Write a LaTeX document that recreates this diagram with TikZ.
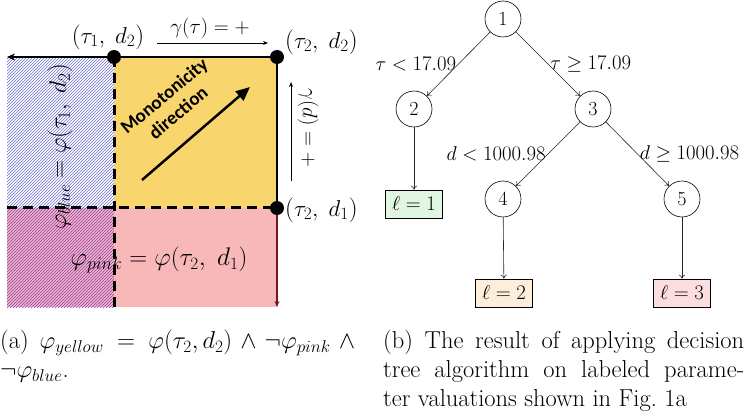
\documentclass[tikz,border=0pt]{standalone}
\usepackage{fontspec}
\DeclareFontShape{OML}{cmm}{m}{it}{<-6>cmmi5<6-7>cmmi6<7-8>cmmi7<8-9>cmmi8<9-10>cmmi9<10-12>cmmi10<12->cmmi12}{\skewchar\font'177}
\DeclareFontShape{OMS}{cmsy}{m}{n}{<-6>cmsy5<6-7>cmsy6<7-8>cmsy7<8-9>cmsy8<9-10>cmsy9<10->cmsy10}{\skewchar\font'60}
\newfontfamily\carlito{Carlito}
\usetikzlibrary{patterns,arrows.meta}
\definecolor{myyellow}{RGB}{249,213,110}
\definecolor{mypink}{RGB}{248,184,186}
\definecolor{hatchblue}{RGB}{110,110,210}
\definecolor{hatchpurple}{RGB}{135,60,195}
\definecolor{leafgreen}{RGB}{224,246,224}
\definecolor{leaforange}{RGB}{253,238,220}
\definecolor{leafred}{RGB}{252,222,222}
\definecolor{darkred}{RGB}{120,20,20}
\begin{document}
\begin{tikzpicture}[x=1pt,y=-1pt,
  dot/.style={circle,fill=black,inner sep=0pt,minimum size=14pt},
  lbl/.style={inner sep=0pt,font=\fontsize{23}{27}\selectfont},
  glbl/.style={inner sep=0pt,font=\fontsize{21}{25}\selectfont},
  tnode/.style={circle,draw,minimum size=36pt,inner sep=0pt,font=\fontsize{20}{24}\selectfont,line width=0.6pt},
  leaf/.style={draw,minimum width=57pt,minimum height=28pt,inner sep=0pt,font=\fontsize{20}{24}\selectfont,line width=0.6pt},
  tedge/.style={-{To[length=4pt,width=6pt]},line width=0.6pt,black!85},
  elbl/.style={font=\fontsize{20}{24}\selectfont,inner sep=2pt,text=black},
  dashline/.style={line width=3pt,dash pattern=on 10pt off 6pt},
  capstyle/.style={anchor=north west,inner sep=0pt,align=justify,font=\fontsize{24.5}{29}\selectfont},
]
\useasboundingbox (0,0) rectangle (744,414);
% regions
\fill[white] (7,57) rectangle (114,208);
\fill[pattern=north east lines,pattern color=hatchblue] (7,57) rectangle (114,208);
\fill[mypink] (7,208) rectangle (114,307);
\fill[pattern=north east lines,pattern color=hatchpurple] (7,208) rectangle (114,307);
\fill[myyellow] (114,57) rectangle (277,208);
\fill[mypink] (114,208) rectangle (277,307);
% corner coordinates
\coordinate (c12) at (114,57);
\coordinate (c22) at (277,57);
\coordinate (c21) at (277,208);
\coordinate (tl) at (7,57);
\coordinate (bm) at (114,307);
\coordinate (ml) at (7,208);
\coordinate (br) at (277,307);
% lines
\draw[dashline] (c12) -- (bm);
\draw[dashline] (ml) -- (c21);
\draw[line width=2pt,-{Stealth[length=8pt,width=7pt]}] (c22) -- (tl);
\draw[line width=1.5pt] (c22) -- (c21);
\draw[line width=1.5pt,darkred,-{Stealth[length=6pt,width=5pt]}] (c21) -- (br);
% dots
\node[dot] (p12) at (c12) {};
\node[dot] (p22) at (c22) {};
\node[dot] (p21) at (c21) {};
% labels
\node[lbl] (l12) at (108,37) {$(\tau_1,\;d_2)$};
\node[lbl,anchor=west] (l22) at (285,42) {$(\tau_2,\;d_2)$};
\node[lbl,anchor=west] (l21) at (285,210) {$(\tau_2,\;d_1)$};
\node[glbl] (gt) at (210,28) {$\gamma(\tau)=+$};
\coordinate (gta) at (157,43);
\coordinate (gtb) at (268,43);
\draw[line width=0.8pt,-{Stealth[length=5pt,width=4pt]}] (gta) -- (gtb);
\node[glbl,rotate=-90] (gd) at (308,128) {$\gamma(d)=+$};
\coordinate (gda) at (291,181);
\coordinate (gdb) at (291,82);
\draw[line width=0.8pt,-{Stealth[length=5pt,width=4pt]}] (gda) -- (gdb);
% monotonicity
\node[font=\carlito\bfseries\fontsize{19}{22}\selectfont,rotate=40,align=center,inner sep=0pt] (mono) at (171,104) {Monotonicity\\direction};
\coordinate (ma) at (142,180);
\coordinate (mb) at (250,87);
\draw[line width=2.5pt,-{Triangle[length=14pt,width=12pt]}] (ma) -- (mb);
% phi labels
\node[lbl,rotate=90,font=\fontsize{24}{28}\selectfont] (pb) at (60,147) {$\varphi_{blue}=\varphi(\tau_1,\;d_2)$};
\node[lbl,font=\fontsize{25.5}{29}\selectfont] (pp) at (159,260) {$\varphi_{pink}=\varphi(\tau_2,\;d_1)$};
% tree
\node[tnode] (n1) at (503,19) {1};
\node[tnode] (n2) at (414,109) {2};
\node[tnode] (n3) at (593,109) {3};
\node[tnode] (n4) at (503,199) {4};
\node[tnode] (n5) at (682,199) {5};
\node[leaf,fill=leafgreen] (f1) at (414,204) {$\ell = 1$};
\node[leaf,fill=leaforange] (f2) at (504,293) {$\ell = 2$};
\node[leaf,fill=leafred] (f3) at (682,293) {$\ell = 3$};
\draw[tedge] (n1) -- node[elbl,left] (e12) {$\tau < 17.09$} (n2);
\draw[tedge] (n1) -- node[elbl,right] (e13) {$\tau \geq 17.09$} (n3);
\draw[tedge] (n3) -- node[elbl,left] (e34) {$d < 1000.98$} (n4);
\draw[tedge] (n3) -- node[elbl,right] (e35) {$d \geq 1000.98$} (n5);
\draw[tedge] (n2) -- (f1);
\draw[tedge] (n4) -- (f2);
\draw[tedge] (n5) -- (f3);
% captions
\node[capstyle,text width=363pt] (capa) at (0,330) {(a) $\varphi_{yellow} = \varphi(\tau_2,d_2) \wedge \neg\varphi_{pink} \wedge{}$\linebreak $\neg\varphi_{blue}$.};
\node[capstyle,text width=361pt] (capb) at (383,330) {(b) The result of applying decision\linebreak tree algorithm on labeled parame-\linebreak ter valuations shown in Fig.~1a};
\end{tikzpicture}
\end{document}
